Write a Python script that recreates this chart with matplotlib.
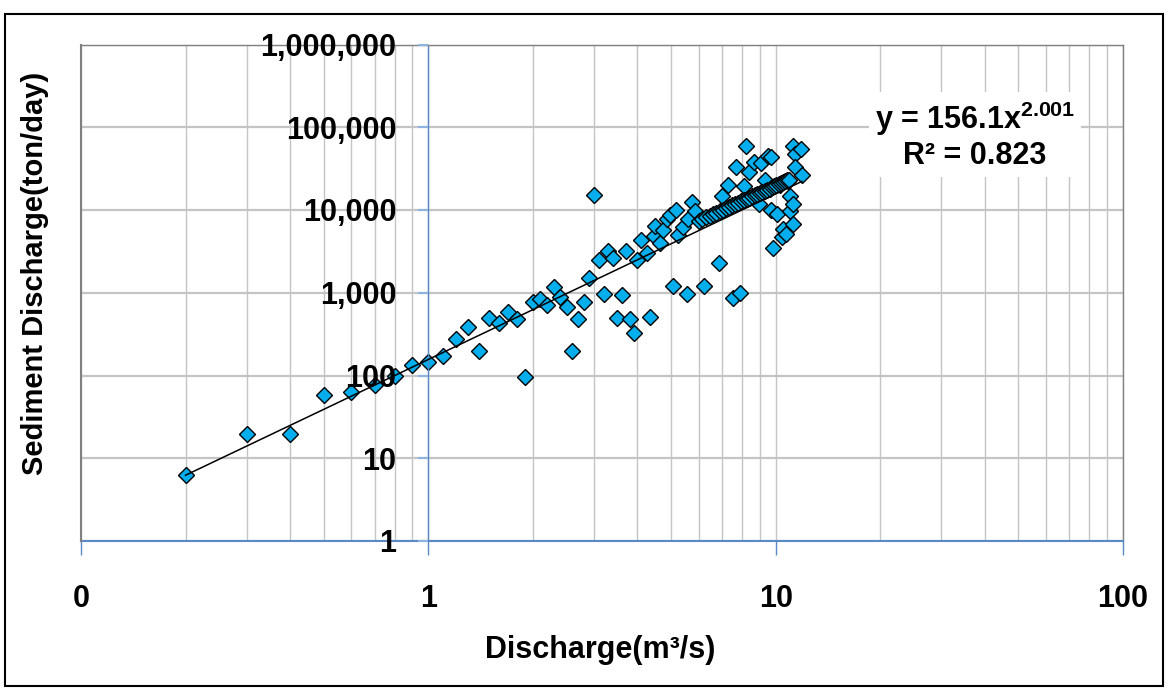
import numpy as np
import matplotlib
matplotlib.use("Agg")
import matplotlib.pyplot as plt
from matplotlib.patches import Rectangle
from matplotlib.ticker import FixedLocator, FixedFormatter, LogLocator, NullFormatter, NullLocator

# -------------------------------
# Fonts
# -------------------------------
plt.rcParams['font.family'] = ['Liberation Sans', 'DejaVu Sans']
plt.rcParams['font.weight'] = 'bold'
plt.rcParams['mathtext.fontset'] = 'custom'
plt.rcParams['mathtext.rm'] = 'Liberation Sans:bold'
plt.rcParams['mathtext.it'] = 'Liberation Sans:bold'
plt.rcParams['mathtext.bf'] = 'Liberation Sans:bold'

# -------------------------------
# Data
# -------------------------------
# scattered observations: discharge (m3/s) and sediment discharge (ton/day)
discharge = [0.2, 0.3, 0.4, 0.5, 0.6, 0.7, 0.8, 0.9, 1.0, 1.1,
             1.2, 1.3, 1.4, 1.5, 1.6, 1.7, 1.8, 1.9, 2.0, 2.1,
             2.2, 2.3, 2.4, 2.5, 2.6, 2.7, 2.8, 2.9, 3.0, 3.1,
             3.2, 3.3, 3.4, 3.5, 3.6, 3.7, 3.8, 3.9, 4.0, 4.1,
             4.25, 4.35, 4.45, 4.5, 4.65, 4.75, 4.85, 4.95, 5.05, 5.15,
             5.25, 5.4, 5.55, 5.6, 5.75, 5.85, 6.2, 6.85, 7.0, 7.3,
             7.55, 7.7, 7.9, 8.1, 8.2, 8.4, 8.65, 8.95, 9.1, 9.3,
             9.5, 9.7, 9.7, 9.85, 10.1, 10.3, 10.4, 10.5, 10.7, 10.85,
             11.0, 11.0, 11.2, 11.25, 11.25, 11.4, 11.4, 11.8, 11.9]
sediment = [6.3, 19.5, 19.5, 58, 63, 76, 100, 134, 145, 173,
            277, 390, 197, 490, 430, 590, 480, 97, 780, 850,
            715, 1170, 900, 680, 195, 485, 780, 1500, 15300, 2500,
            970, 3200, 2620, 490, 945, 3200, 480, 325, 2500, 4360,
            3060, 515, 4880, 6400, 3980, 5800, 7700, 8800, 1190, 10000,
            5000, 6250, 965, 7800, 12400, 9850, 1220, 2320, 14800, 20000,
            860, 33000, 990, 19600, 58600, 28700, 37500, 11900, 36500, 22900,
            45200, 43600, 10000, 3520, 9000, 20200, 4780, 5870, 5150, 22700,
            14900, 9600, 6800, 11900, 59700, 47800, 33000, 54900, 26700]

# dense run of points that sit along the rating curve
chain_q = [6.0, 6.15, 6.3, 6.45, 6.6, 6.75, 6.9, 7.05, 7.2, 7.35,
           7.5, 7.65, 7.8, 7.95, 8.1, 8.25, 8.4, 8.55, 8.7, 8.85,
           9.0, 9.15, 9.3, 9.45, 9.6, 9.75, 9.9, 10.05, 10.2, 10.35,
           10.5, 10.65, 10.8, 10.95]
chain_s = [7440, 7800, 8160, 8540, 8920, 9310, 9700, 10110, 10520, 10940,
           11370, 11810, 12250, 12700, 13160, 13630, 14100, 14590, 15070, 15570,
           16080, 16590, 17110, 17640, 18180, 18720, 19270, 19830, 20390, 20970,
           21550, 22140, 22730, 23330]

# power trendline printed on the chart
trend_a = 156.1
trend_b = 2.001
r_squared = 0.823

x_ticks = [0.1, 1, 10, 100]
x_tick_labels = ['0', '1', '10', '100']
y_ticks = [1, 10, 100, 1000, 10000, 100000, 1000000]
y_tick_labels = ['1', '10', '100', '1,000', '10,000', '100,000', '1,000,000']

# -------------------------------
# Figure
# -------------------------------
W, H = 1168, 691
fig = plt.figure(figsize=(W / 100, H / 100), dpi=100)
ax = fig.add_axes([81 / W, 1 - 541 / H, 1042 / W, 496.5 / H])
ax.set_xscale('log')
ax.set_yscale('log')
ax.set_xlim(x_ticks[0], x_ticks[-1])
ax.set_ylim(y_ticks[0], y_ticks[-1])

axis_blue = '#5A8AC6'
grid_gray = '#C4C4C4'

# points
all_q = discharge + chain_q
all_s = sediment + chain_s
ax.plot(all_q, all_s, linestyle='none', marker='D', ms=7.8,
        mfc='#04ADEC', mec='black', mew=1.0, zorder=2)

# trendline over the data range
q_line = np.geomspace(min(all_q), max(all_q), 200)
ax.plot(q_line, trend_a * q_line ** trend_b, color='black', lw=1.1, zorder=3)

# ticks and labels
ax.xaxis.set_major_locator(FixedLocator(x_ticks))
ax.xaxis.set_major_formatter(FixedFormatter(x_tick_labels))
ax.xaxis.set_minor_locator(LogLocator(base=10, subs=range(2, 10)))
ax.xaxis.set_minor_formatter(NullFormatter())
ax.yaxis.set_major_locator(FixedLocator(y_ticks))
ax.yaxis.set_major_formatter(FixedFormatter(y_tick_labels))
ax.yaxis.set_minor_locator(NullLocator())

ax.tick_params(axis='x', which='major', direction='out', length=10, width=1,
               color=axis_blue, pad=21, labelsize=22)
ax.tick_params(axis='x', which='minor', length=0)
ax.tick_params(axis='y', which='major', direction='out', length=7, width=1.5,
               color='#8DB3E2', pad=16, labelsize=22)

# gridlines drawn under the markers, tick labels above them
ax.grid(False)
ax.set_axisbelow(False)
for xv in list(ax.get_xticks(minor=True)) + x_ticks:
    ax.axvline(xv, color=grid_gray, lw=1.0, zorder=0.5)
for yv in y_ticks:
    ax.axhline(yv, color=grid_gray, lw=1.6, zorder=0.5)

# vertical axis crosses at x = 1
ax.spines['left'].set_position(('data', 1))
ax.spines['left'].set_color(axis_blue)
ax.spines['left'].set_linewidth(1.0)
ax.spines['bottom'].set_color(axis_blue)
ax.spines['bottom'].set_linewidth(1.5)
for side in ['top', 'right']:
    ax.spines[side].set_color('#808080')
    ax.spines[side].set_linewidth(1.0)
ax.axvline(x_ticks[0], color='#808080', lw=1.5, zorder=2.6, clip_on=False)

# equation box
eq_text = f'y = {trend_a}x$^{{{trend_b:.3f}}}$\nR² = {r_squared}'
ax.text(0.858, 0.817, eq_text, transform=ax.transAxes, ha='center', va='center',
        fontsize=22, fontweight='bold', linespacing=1.1, zorder=4,
        bbox=dict(boxstyle='square,pad=0.2', fc='white', ec='none'))

# axis titles
fig.text(0.514, 1 - 650 / H, 'Discharge(m³/s)', ha='center', va='center',
         fontsize=22, fontweight='bold')
fig.text(35 / W, 1 - 273 / H, 'Sediment Discharge(ton/day)', ha='center',
         va='center', rotation=90, fontsize=21, fontweight='bold')

# outer frame
fig.add_artist(Rectangle((5 / W, 5 / H), 1158 / W, 672 / H, transform=fig.transFigure,
                         fill=False, ec='black', lw=1.5))

fig.savefig('out.png', dpi=100)
